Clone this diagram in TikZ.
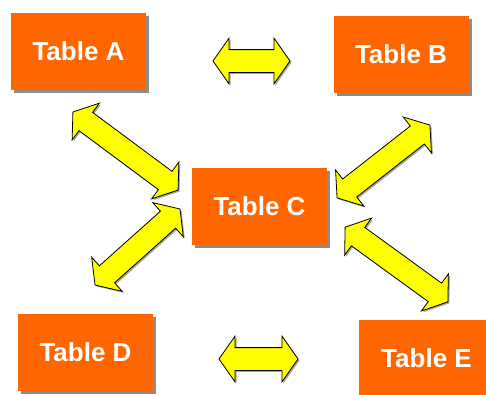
\documentclass[tikz,border=0pt]{standalone}
\usepackage{fontspec}
\setmainfont{Liberation Sans}
\usetikzlibrary{shapes.arrows,shadows}
\definecolor{tblorange}{HTML}{FF6600}
\definecolor{arryellow}{HTML}{FFFF00}
\begin{document}
\begin{tikzpicture}[x=1pt,y=-1pt,
  tblfont/.style={font=\fontsize{26}{30}\selectfont\bfseries},
  tbl/.style={rectangle, fill=tblorange, minimum width=135pt, minimum height=77pt,
    inner sep=0pt, text=white, tblfont,
    drop shadow={shadow xshift=3pt, shadow yshift=-3pt, fill=black, opacity=0.45}},
  dbl/.style={double arrow, fill=arryellow, draw=black, line width=0.8pt,
    minimum height=#1, inner xsep=0pt, inner ysep=11pt,
    double arrow head extend=11.5pt, double arrow tip angle=110,
    drop shadow={shadow xshift=1.5pt, shadow yshift=-1.5pt, fill=black, opacity=0.35}}
]
\useasboundingbox[fill=white] (0,0) rectangle (486,394);

\node[tbl] (a) at (78.5,51) {Table A};
\node[tbl] (b) at (401,54.5) {Table B};
\node[tbl] (c) at (259.5,206.5) {Table C};
\node[tbl] (d) at (85.5,352.5) {Table D};
\node[tbl] (e) at (426.5,358.5) {Table E};

\node[dbl=77pt] (ab) at (251.5,61) {};
\node[dbl=79pt] (de) at (258.5,359) {};
\node[dbl=131pt, rotate=-36.6] (ac) at (125.5,151) {};
\node[dbl=114pt, rotate=41.8] (dc) at (137.5,247) {};
\node[dbl=118pt, rotate=38.1] (bc) at (383.5,161.5) {};
\node[dbl=127pt, rotate=-36] (ce) at (396.5,264.5) {};
\end{tikzpicture}
\end{document}
